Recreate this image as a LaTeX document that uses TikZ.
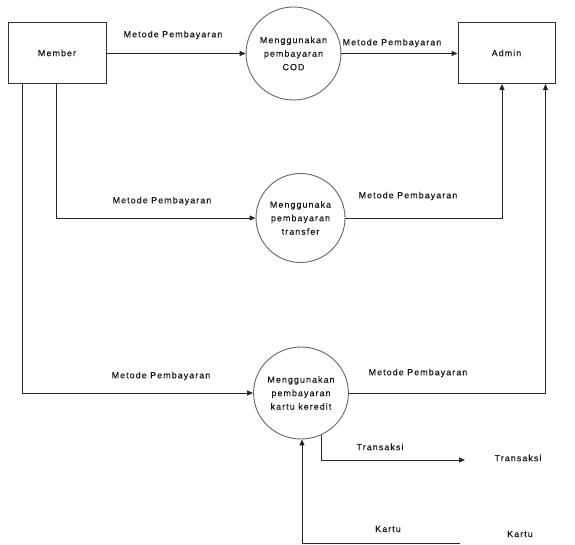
\documentclass[tikz,border=0pt]{standalone}
\usepackage{fontspec}
\usetikzlibrary{shapes.geometric,arrows.meta}
\newfontfamily\lblfont[LetterSpace=12,FakeBold=0.4]{Liberation Sans}
\begin{document}
\begin{tikzpicture}[x=1pt,y=-1pt,
  every node/.style={font=\lblfont\fontsize{8.9}{13.5}\selectfont, text=black!90},
  entity/.style={draw=black!80, line width=0.9pt, rectangle, inner sep=0pt},
  proc/.style={draw=black!60, line width=0.9pt, ellipse, inner sep=0pt, align=center},
  flow/.style={draw=black!85, line width=0.9pt, -{Triangle[length=6pt,width=5pt]}},
  lbl/.style={inner sep=0pt}]
\useasboundingbox (0,0) rectangle (575,545);

% external entities
\node[entity, minimum width=98pt, minimum height=61pt] (member) at (57,53) {Member};
\node[entity, minimum width=97pt, minimum height=61pt] (admin) at (506.5,53) {Admin};

% processes
\node[proc, minimum width=87pt, minimum height=93pt] (cod) at (293.5,53.5)
  {Menggunakan\\pembayaran\\COD};
\node[proc, minimum width=89pt, minimum height=89pt] (transfer) at (300.5,218)
  {Menggunaka\\pembayaran\\transfer};
\node[proc, minimum width=88pt, minimum height=92pt] (kartu) at (301,393)
  {Menggunakan\\pembayaran\\kartu keredit};

% sinks and sources shown as plain text
\node[lbl] (trx) at (518,458) {Transaksi};
\node[lbl] (krt) at (520,534) {Kartu};
\coordinate (trxEnd) at (465,460);
\coordinate (krtStart) at (460,543);

% data flows
\draw[flow] (member.east |- cod) -- (cod.west);
\draw[flow] (cod.east) -- (admin.west |- cod);
\draw[flow] ([xshift=-1pt]member.south) |- (transfer.west);
\draw[flow] ([xshift=-35pt]member.south) |- (kartu.west);
\draw[flow] (transfer.east) -| ([xshift=-4.5pt]admin.south);
\draw[flow] (kartu.east) -| ([xshift=39pt]admin.south);
\draw[flow] (kartu.-64) |- (trxEnd);
\draw[flow] (krtStart) -| ([xshift=1pt]kartu.south);

% flow labels
\node[lbl] at (173,35) {Metode Pembayaran};
\node[lbl] at (392,43) {Metode Pembayaran};
\node[lbl] at (162,201) {Metode Pembayaran};
\node[lbl] at (408,196) {Metode Pembayaran};
\node[lbl] at (161,376) {Metode Pembayaran};
\node[lbl] at (418,373) {Metode Pembayaran};
\node[lbl] at (380,447) {Transaksi};
\node[lbl] at (388,529) {Kartu};
\end{tikzpicture}
\end{document}
